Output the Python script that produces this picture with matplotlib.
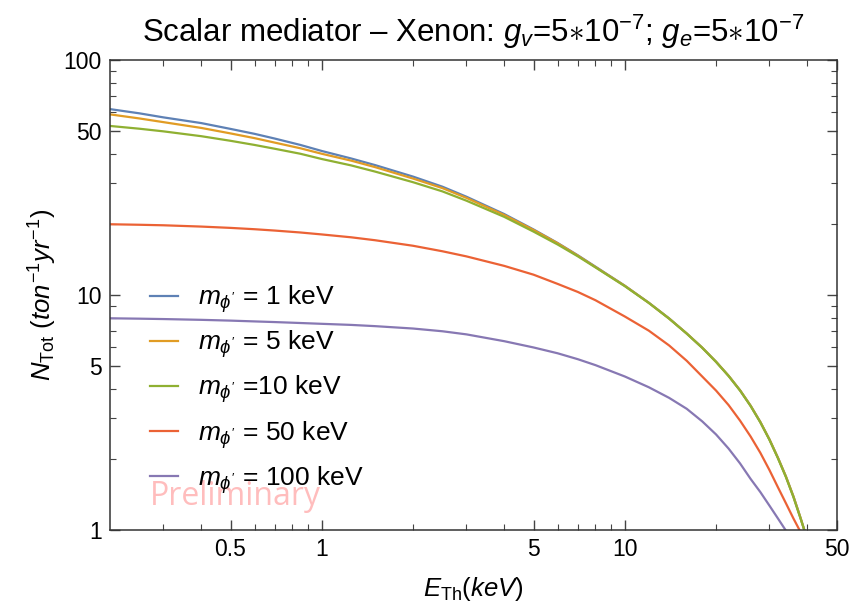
import matplotlib
matplotlib.use("Agg")
import matplotlib.pyplot as plt
from matplotlib.ticker import FixedLocator, NullFormatter, FixedFormatter

plt.rcParams['font.family'] = ['Liberation Sans', 'DejaVu Sans']
plt.rcParams['mathtext.fontset'] = 'custom'
plt.rcParams['mathtext.rm'] = 'Liberation Sans'
plt.rcParams['mathtext.it'] = 'Liberation Sans:italic'
plt.rcParams['mathtext.bf'] = 'Liberation Sans:bold'

# Threshold energies (keV)
e_th = [0.2, 0.25, 0.3, 0.4, 0.5, 0.6, 0.7, 0.85, 1, 1.25, 1.5, 2, 2.5, 3, 4, 5, 6, 7, 8,
        10, 12, 14, 16, 18, 20, 22, 24, 26, 28, 30, 32, 34, 36, 37, 38, 39.1]

n_1 = [61.8, 59.3, 57.0, 53.9, 50.9, 48.5, 46.3, 43.5, 41.0, 38.1, 35.7, 31.9, 28.9, 26.2,
       22.1, 19.0, 16.65, 14.75, 13.2, 10.95, 9.27, 7.95, 6.86, 5.97, 5.2, 4.53, 3.93,
       3.38, 2.88, 2.43, 2.03, 1.69, 1.39, 1.25, 1.125, 1.0]
n_5 = [58.7, 56.4, 54.4, 51.4, 48.7, 46.5, 44.5, 42.1, 39.9, 37.3, 35.0, 31.3, 28.5, 25.9,
       21.9, 18.9, 16.6, 14.7, 13.15, 10.94, 9.26, 7.94, 6.86, 5.97, 5.2, 4.53, 3.93,
       3.38, 2.88, 2.43, 2.03, 1.69, 1.39, 1.25, 1.125, 1.0]
n_10 = [52.4, 51.0, 49.7, 47.4, 45.3, 43.5, 41.9, 39.9, 37.9, 35.6, 33.5, 30.2, 27.6, 25.2,
        21.5, 18.6, 16.4, 14.6, 13.1, 10.9, 9.25, 7.93, 6.85, 5.96, 5.19, 4.52, 3.92,
        3.37, 2.87, 2.42, 2.02, 1.68, 1.38, 1.24, 1.12, 1.0]

e_th_50 = [0.2, 0.25, 0.3, 0.4, 0.5, 0.6, 0.7, 0.85, 1, 1.25, 1.5, 2, 2.5, 3, 4, 5, 6, 7, 8,
           10, 12, 14, 16, 18, 20, 22, 24, 26, 28, 30, 32, 34, 36, 37.7]
n_50 = [20.0, 19.9, 19.8, 19.55, 19.3, 19.05, 18.8, 18.45, 18.1, 17.6, 17.1, 16.2, 15.35,
        14.6, 13.3, 12.2, 11.15, 10.3, 9.5, 8.1, 7.05, 6.1, 5.25, 4.5, 3.92, 3.4, 2.92,
        2.5, 2.13, 1.8, 1.52, 1.3, 1.12, 1.0]

e_th_100 = [0.2, 0.25, 0.3, 0.4, 0.5, 0.6, 0.7, 0.85, 1, 1.25, 1.5, 2, 2.5, 3, 4, 5, 6, 7, 8,
            10, 12, 14, 16, 18, 20, 22, 24, 26, 28, 30, 32, 33.9]
n_100 = [7.96, 7.93, 7.9, 7.84, 7.78, 7.72, 7.67, 7.6, 7.54, 7.46, 7.37, 7.2, 7.01, 6.8,
         6.36, 5.98, 5.65, 5.33, 5.03, 4.5, 4.05, 3.65, 3.28, 2.9, 2.55, 2.22, 1.92,
         1.65, 1.45, 1.27, 1.12, 1.0]

labels = [r"$m_{\phi'}$ = 1 keV", r"$m_{\phi'}$ = 5 keV", r"$m_{\phi'}$ =10 keV",
          r"$m_{\phi'}$ = 50 keV", r"$m_{\phi'}$ = 100 keV"]
colors = ['#5E81B5', '#E19C24', '#8FB032', '#EB6235', '#8778B3']

x_major = [0.5, 1, 5, 10, 50]
x_major_labels = ['0.5', '1', '5', '10', '50']
x_minor = [0.3, 0.4, 0.6, 0.7, 0.8, 0.9, 2, 3, 4, 6, 7, 8, 9, 20, 30, 40]
y_major = [1, 5, 10, 50, 100]
y_major_labels = ['1', '5', '10', '50', '100']
y_minor = [2, 3, 4, 6, 7, 8, 9, 20, 30, 40, 60, 70, 80, 90]

fig = plt.figure(figsize=(8.59, 6.09), dpi=100)
ax = fig.add_axes([0.128, 0.1297, 0.846, 0.7718])

series = [(e_th, n_1), (e_th, n_5), (e_th, n_10), (e_th_50, n_50), (e_th_100, n_100)]
for (e, n), c, lab in zip(series, colors, labels):
    ax.plot(e, n, color=c, lw=1.6, label=lab)

ax.set_xscale('log')
ax.set_yscale('log')
ax.set_xlim(0.2, 50)
ax.set_ylim(1, 100)

ax.xaxis.set_major_locator(FixedLocator(x_major))
ax.xaxis.set_major_formatter(FixedFormatter(x_major_labels))
ax.xaxis.set_minor_locator(FixedLocator(x_minor))
ax.xaxis.set_minor_formatter(NullFormatter())
ax.yaxis.set_major_locator(FixedLocator(y_major))
ax.yaxis.set_major_formatter(FixedFormatter(y_major_labels))
ax.yaxis.set_minor_locator(FixedLocator(y_minor))
ax.yaxis.set_minor_formatter(NullFormatter())

ax.tick_params(which='both', direction='in', top=True, right=True, labelsize=16.5,
               color='#444444', pad=6)
ax.tick_params(which='major', length=7, width=1)
ax.tick_params(which='minor', length=4, width=0.8)
for s in ax.spines.values():
    s.set_color('#333333')
    s.set_linewidth(1.1)

ax.set_xlabel(r"$E_{\mathrm{Th}}(keV)$", fontsize=18.5, labelpad=10)
ax.set_ylabel(r"$N_{\mathrm{Tot}}$ $(ton^{-1} yr^{-1})$", fontsize=18.5, labelpad=3)
ax.set_title(r"Scalar mediator – Xenon: $g_v$=5$\ast$10$^{-7}$; $g_e$=5$\ast$10$^{-7}$",
             fontsize=22.5, pad=13)

leg = ax.legend(loc='lower left', bbox_to_anchor=(0.037, 0.045), frameon=False, fontsize=19,
                borderpad=0, handlelength=1.06, handletextpad=0.76, labelspacing=0.51)

ax.text(0.055, 0.053, "Preliminary", transform=ax.transAxes, fontsize=23,
        color='#FFBDBD', family='Open Sans', va='baseline', zorder=0)

fig.savefig('out.png', dpi=100)
